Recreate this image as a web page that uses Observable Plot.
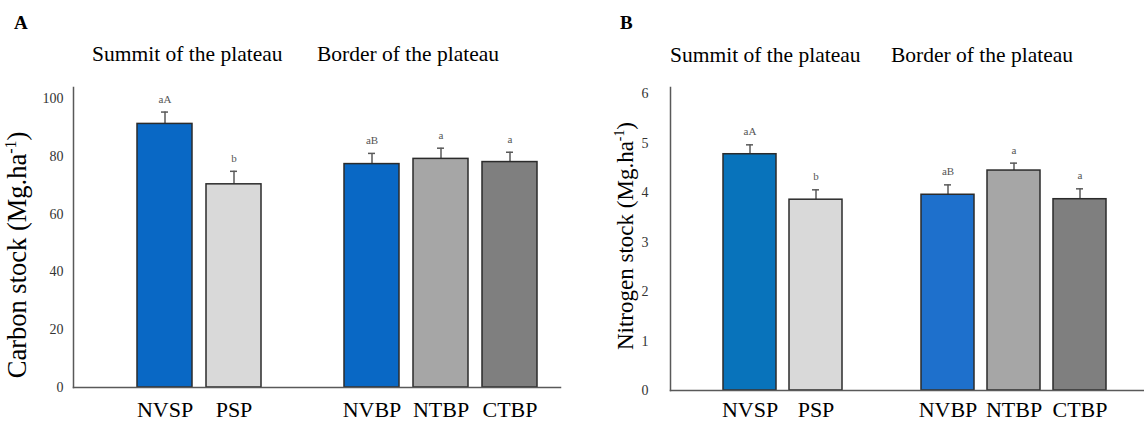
<!DOCTYPE html>
<html>
<head>
<meta charset="utf-8">
<script src="https://cdn.jsdelivr.net/npm/d3@7"></script>
<script src="https://cdn.jsdelivr.net/npm/@observablehq/plot@0.6"></script>
<style>
  body { margin: 0; background: #fff; }
  #wrap { position: relative; width: 1144px; height: 423px; overflow: hidden; font-family: "Liberation Serif", "Times New Roman", serif; color: #000; }
  .panel { position: absolute; top: 0; width: 572px; height: 423px; }
  .t { position: absolute; white-space: nowrap; line-height: 1; }
  .ytitle { position: absolute; white-space: nowrap; line-height: 1; transform: translate(-50%, -50%) rotate(-90deg); }
  sup { font-size: 0.6em; line-height: 0; }
</style>
</head>
<body>
<div id="wrap">
  <div class="panel" id="pA" style="left:0px"></div>
  <div class="panel" id="pB" style="left:572px"></div>
  <div class="t" style="left:14px;top:13px;font-size:19px;font-weight:bold">A</div>
  <div class="t" style="left:620px;top:13px;font-size:19px;font-weight:bold">B</div>
  <div class="t" style="left:92px;top:44px;font-size:21.5px">Summit of the plateau</div>
  <div class="t" style="left:317px;top:44px;font-size:21.5px">Border of the plateau</div>
  <div class="t" style="left:670px;top:45px;font-size:21.5px">Summit of the plateau</div>
  <div class="t" style="left:891px;top:45px;font-size:21.5px">Border of the plateau</div>
  <div class="ytitle" style="left:17px;top:255px;font-size:26.5px">Carbon stock (Mg.ha<sup>-1</sup>)</div>
  <div class="ytitle" style="left:625px;top:236px;font-size:23px">Nitrogen stock (Mg.ha<sup>-1</sup>)</div>
</div>
<script>
// ---- data ----
const summit = ["NVSP", "PSP"];
const border = ["NVBP", "NTBP", "CTBP"];
const categories = [...summit, ...border];

const carbon = [91.2, 70.3, 77.3, 79.1, 78.0];
const carbonErr = [4.1, 4.5, 3.7, 3.7, 3.4];
const carbonLetters = ["aA", "b", "aB", "a", "a"];
const carbonTicks = [0, 20, 40, 60, 80, 100];

const nitrogen = [4.78, 3.86, 3.96, 4.45, 3.87];
const nitrogenErr = [0.19, 0.20, 0.20, 0.15, 0.21];
const nitrogenLetters = ["aA", "b", "aB", "a", "a"];
const nitrogenTicks = [0, 1, 2, 3, 4, 5, 6];

// ---- styles ----
const paletteA = ["#0968c5", "#d9d9d9", "#0968c5", "#a6a6a6", "#7f7f7f"];
const paletteB = ["#0873bb", "#d9d9d9", "#1e70cc", "#a6a6a6", "#7f7f7f"];
const xSlots = ["_gap0", ...summit, "_gap1", ...border];

function panel({values, errs, letters, ticks, palette, yMax, marginLeft, marginRight, marginBottom, xRange, tickFont, tickPad, xPad, capInset}) {
  const rows = categories.map((c, i) => ({cat: c, v: values[i], top: values[i] + errs[i], letter: letters[i]}));
  return Plot.plot({
    width: 572,
    height: 423,
    marginTop: 87,
    marginBottom,
    marginLeft,
    marginRight,
    style: {fontFamily: "Liberation Serif, Times New Roman, serif", background: "transparent", overflow: "visible"},
    x: {domain: xSlots, range: xRange, paddingInner: 0.2, paddingOuter: 0.1, align: 0.5, axis: null},
    y: {domain: [0, yMax], axis: null},
    color: {domain: categories, range: palette},
    marks: [
      Plot.axisY(ticks, {tickSize: 0, tickPadding: tickPad, fontSize: tickFont, fill: "#333", label: null}),
      Plot.axisX(categories, {tickSize: 0, tickPadding: xPad, fontSize: 22, fill: "#000", label: null}),
      Plot.ruleX(rows, {x: "cat", y1: "v", y2: "top", stroke: "#5a5a5a", strokeWidth: 1.5}),
      Plot.tickY(rows, {x: "cat", y: "top", stroke: "#5a5a5a", strokeWidth: 1.5, insetLeft: capInset, insetRight: capInset}),
      Plot.barY(rows, {x: "cat", y: "v", fill: "cat", stroke: "#2b2b2b", strokeWidth: 1.5}),
      Plot.text(rows, {x: "cat", y: "top", text: "letter", dy: -13, fontSize: 11, fill: "#555"}),
      Plot.frame({anchor: "left", stroke: "#595959", strokeWidth: 1.5}),
      Plot.frame({anchor: "bottom", stroke: "#595959", strokeWidth: 1.5})
    ]
  });
}

document.getElementById("pA").append(panel({
  values: carbon, errs: carbonErr, letters: carbonLetters, ticks: carbonTicks, palette: paletteA,
  yMax: 103.8, marginLeft: 73, marginRight: 12, marginBottom: 36, xRange: [61, 544],
  tickFont: 14, tickPad: 10, xPad: 14, capInset: 24
}));
document.getElementById("pB").append(panel({
  values: nitrogen, errs: nitrogenErr, letters: nitrogenLetters, ticks: nitrogenTicks, palette: paletteB,
  yMax: 6.13, marginLeft: 98, marginRight: 1, marginBottom: 33, xRange: [78.4, 540.4],
  tickFont: 14, tickPad: 22, xPad: 11, capInset: 23
}));
</script>
</body>
</html>
